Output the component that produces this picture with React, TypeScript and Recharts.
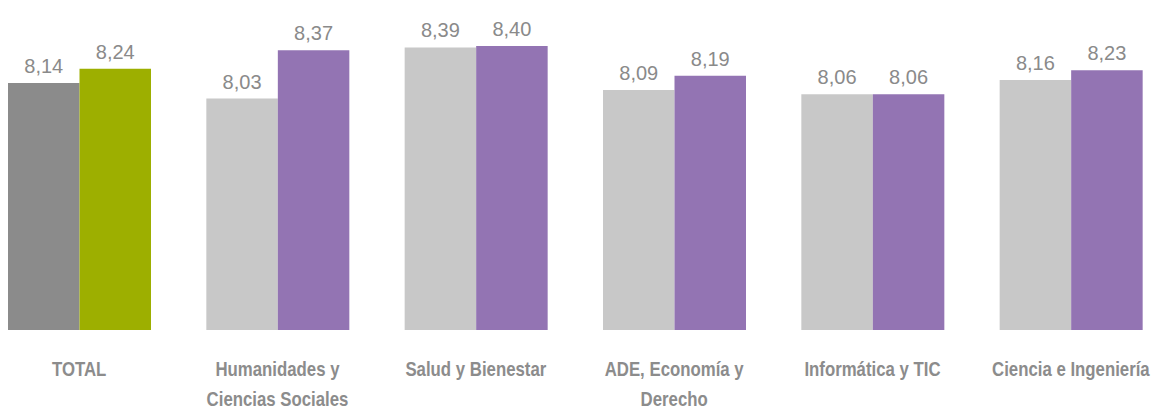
import { BarChart, Bar, XAxis, YAxis, Cell, LabelList } from "recharts";

const categories = [
    "TOTAL",
    "Humanidades y\nCiencias Sociales",
    "Salud y Bienestar",
    "ADE, Economía y\nDerecho",
    "Informática y TIC",
    "Ciencia e Ingeniería",
];
const firstValues = [8.14, 8.03, 8.39, 8.09, 8.06, 8.16];
const secondValues = [8.24, 8.37, 8.4, 8.19, 8.06, 8.23];

const FIRST_COLORS = ["#8b8b8b", "#c8c8c8", "#c8c8c8", "#c8c8c8", "#c8c8c8", "#c8c8c8"];
const SECOND_COLORS = ["#9daf00", "#9374b3", "#9374b3", "#9374b3", "#9374b3", "#9374b3"];

const data = categories.map((name, i) => ({
    name,
    first: firstValues[i],
    second: secondValues[i],
}));

const fmt = (v: any) => Number(v).toFixed(2).replace(".", ",");

// condensed bold look: squeeze Liberation Sans Bold horizontally
function CategoryTick(props: any) {
    const { x, y, payload } = props;
    const lines = String(payload.value).split("\n");
    return (
        <g transform={`translate(${x},${y}) scale(0.84,1)`}>
            {lines.map((line: string, i: number) => (
                <text
                    key={i}
                    x={0}
                    y={46 + i * 30}
                    textAnchor="middle"
                    fill="#8c8c8c"
                    fontSize={20}
                    fontWeight="bold"
                    fontFamily="'Liberation Sans', Arial, sans-serif"
                >
                    {line}
                </text>
            ))}
        </g>
    );
}

export default function App() {
    return (
        <div style={{ overflow: "hidden", width: 1143 }}>
            <div style={{ marginLeft: -28, width: 1190 }}>
                <BarChart
                    width={1190}
                    height={402}
                    data={data}
                    margin={{ top: 38, right: 0, left: 0, bottom: 0 }}
                    barGap={0}
                    barSize={71.5}
                >
                    <XAxis
                        dataKey="name"
                        height={80}
                        axisLine={false}
                        tickLine={false}
                        tickSize={0}
                        tickMargin={0}
                        interval={0}
                        tick={<CategoryTick />}
                    />
                    <YAxis hide domain={[6.4, 8.4]} />
                    <Bar dataKey="first" isAnimationActive={false}>
                        {data.map((_, i) => (
                            <Cell key={`f-${i}`} fill={FIRST_COLORS[i]} />
                        ))}
                        <LabelList
                            dataKey="first"
                            position="top"
                            offset={10}
                            formatter={fmt}
                            fill="#8a8a8a"
                            fontSize={20}
                            fontFamily="'Liberation Sans', Arial, sans-serif"
                        />
                    </Bar>
                    <Bar dataKey="second" isAnimationActive={false}>
                        {data.map((_, i) => (
                            <Cell key={`s-${i}`} fill={SECOND_COLORS[i]} />
                        ))}
                        <LabelList
                            dataKey="second"
                            position="top"
                            offset={10}
                            formatter={fmt}
                            fill="#8a8a8a"
                            fontSize={20}
                            fontFamily="'Liberation Sans', Arial, sans-serif"
                        />
                    </Bar>
                </BarChart>
            </div>
        </div>
    );
}
